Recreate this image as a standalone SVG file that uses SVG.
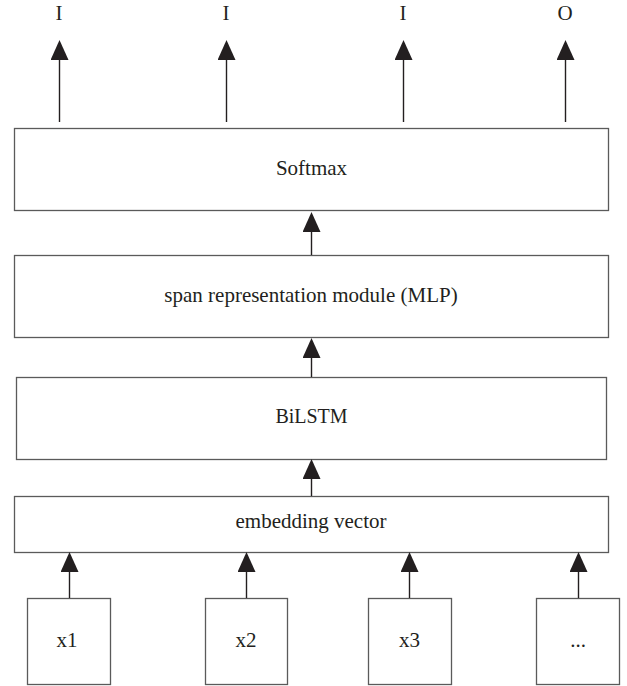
<svg xmlns="http://www.w3.org/2000/svg" width="627" height="686" viewBox="0 0 627 686">
  <style>
    .box { fill: #ffffff; stroke: #5a5a5a; stroke-width: 1.3; }
    .lbl { font-family: "Liberation Serif", "Times New Roman", serif; font-size: 21px; fill: #231f20; text-anchor: middle; }
    .conn { stroke: #231f20; stroke-width: 1.4; fill: none; marker-end: url(#ah); }
  </style>
  <defs>
    <marker id="ah" markerUnits="userSpaceOnUse" markerWidth="20" markerHeight="18" refX="0" refY="9" orient="auto" viewBox="0 0 20 18">
      <path d="M0,0 L20,9 L0,18 Z" fill="#231f20"/>
    </marker>
  </defs>
  <rect width="627" height="686" fill="#ffffff"/>

  <g id="out-labels">
    <text class="lbl" x="59" y="20">I</text>
    <text class="lbl" x="226" y="20">I</text>
    <text class="lbl" x="403" y="20">I</text>
    <text class="lbl" x="565" y="20">O</text>
  </g>

  <g id="softmax">
    <rect class="box" x="14.5" y="128.5" width="594" height="82"/>
    <text class="lbl" x="311.5" y="175">Softmax</text>
  </g>
  <g id="span">
    <rect class="box" x="14.5" y="255.5" width="594" height="82"/>
    <text class="lbl" x="311" y="302">span representation module (MLP)</text>
  </g>
  <g id="bilstm">
    <rect class="box" x="16.5" y="377.5" width="590" height="82"/>
    <text class="lbl" x="311.5" y="423" style="font-size:20px">BiLSTM</text>
  </g>
  <g id="embedding">
    <rect class="box" x="14.5" y="496.5" width="594" height="56"/>
    <text class="lbl" x="311" y="528">embedding vector</text>
  </g>
  <g id="x1">
    <rect class="box" x="27.5" y="598.5" width="83" height="86"/>
    <text class="lbl" x="67" y="647">x1</text>
  </g>
  <g id="x2">
    <rect class="box" x="205.5" y="598.5" width="82" height="86"/>
    <text class="lbl" x="246" y="647">x2</text>
  </g>
  <g id="x3">
    <rect class="box" x="368.5" y="598.5" width="83" height="86"/>
    <text class="lbl" x="409.5" y="647">x3</text>
  </g>
  <g id="xn">
    <rect class="box" x="536.5" y="598.5" width="83" height="86"/>
    <text class="lbl" x="578" y="647">...</text>
  </g>

  <g id="connectors">
    <line class="conn" x1="59.5" y1="122" x2="59.5" y2="60"/>
    <line class="conn" x1="226.5" y1="122" x2="226.5" y2="60"/>
    <line class="conn" x1="403.5" y1="122" x2="403.5" y2="60"/>
    <line class="conn" x1="565.5" y1="122" x2="565.5" y2="60"/>
    <line class="conn" x1="311.5" y1="255" x2="311.5" y2="232"/>
    <line class="conn" x1="311.5" y1="377" x2="311.5" y2="358"/>
    <line class="conn" x1="311.5" y1="496" x2="311.5" y2="479"/>
    <line class="conn" x1="69.5" y1="598" x2="69.5" y2="572"/>
    <line class="conn" x1="246.5" y1="598" x2="246.5" y2="572"/>
    <line class="conn" x1="409.5" y1="598" x2="409.5" y2="572"/>
    <line class="conn" x1="578.5" y1="598" x2="578.5" y2="572"/>
  </g>
</svg>
